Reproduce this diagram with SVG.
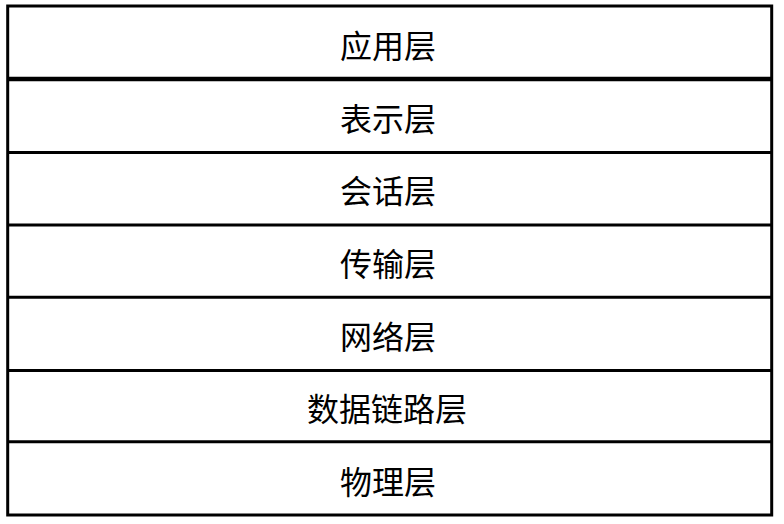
<svg xmlns="http://www.w3.org/2000/svg" width="784" height="524" viewBox="0 0 784 524">
  <style>
    .layer rect { fill: #ffffff; stroke: none; }
    .label { font-family: "Noto Sans CJK SC", "Liberation Serif", serif; font-size: 32px; fill: #000000; text-anchor: middle; dominant-baseline: central; }
    .line { stroke: #000000; stroke-width: 3; fill: none; }
  </style>
  <rect x="0" y="0" width="784" height="524" fill="#ffffff"/>
  <g id="layer-application" class="layer">
    <rect x="7.7" y="6" width="764" height="73"/>
    <text class="label" x="388" y="43.5">应用层</text>
  </g>
  <g id="layer-presentation" class="layer">
    <rect x="7.7" y="79" width="764" height="73.4"/>
    <text class="label" x="388" y="117.3">表示层</text>
  </g>
  <g id="layer-session" class="layer">
    <rect x="7.7" y="152.4" width="764" height="72.6"/>
    <text class="label" x="388" y="189">会话层</text>
  </g>
  <g id="layer-transport" class="layer">
    <rect x="7.7" y="225" width="764" height="72"/>
    <text class="label" x="388" y="262">传输层</text>
  </g>
  <g id="layer-network" class="layer">
    <rect x="7.7" y="297" width="764" height="73.5"/>
    <text class="label" x="388" y="335">网络层</text>
  </g>
  <g id="layer-datalink" class="layer">
    <rect x="7.7" y="370.5" width="764" height="71.2"/>
    <text class="label" x="387" y="407">数据链路层</text>
  </g>
  <g id="layer-physical" class="layer">
    <rect x="7.7" y="441.7" width="764" height="73.3"/>
    <text class="label" x="388" y="480">物理层</text>
  </g>
  <g id="connectors">
    <rect class="line" x="7.7" y="6" width="764" height="509"/>
    <line class="line" x1="7.7" y1="79" x2="771.7" y2="79" style="stroke-width:4.5"/>
    <line class="line" x1="7.7" y1="152.4" x2="771.7" y2="152.4"/>
    <line class="line" x1="7.7" y1="225" x2="771.7" y2="225"/>
    <line class="line" x1="7.7" y1="297.2" x2="771.7" y2="297.2"/>
    <line class="line" x1="7.7" y1="370.5" x2="771.7" y2="370.5"/>
    <line class="line" x1="7.7" y1="441.7" x2="771.7" y2="441.7"/>
  </g>
</svg>
